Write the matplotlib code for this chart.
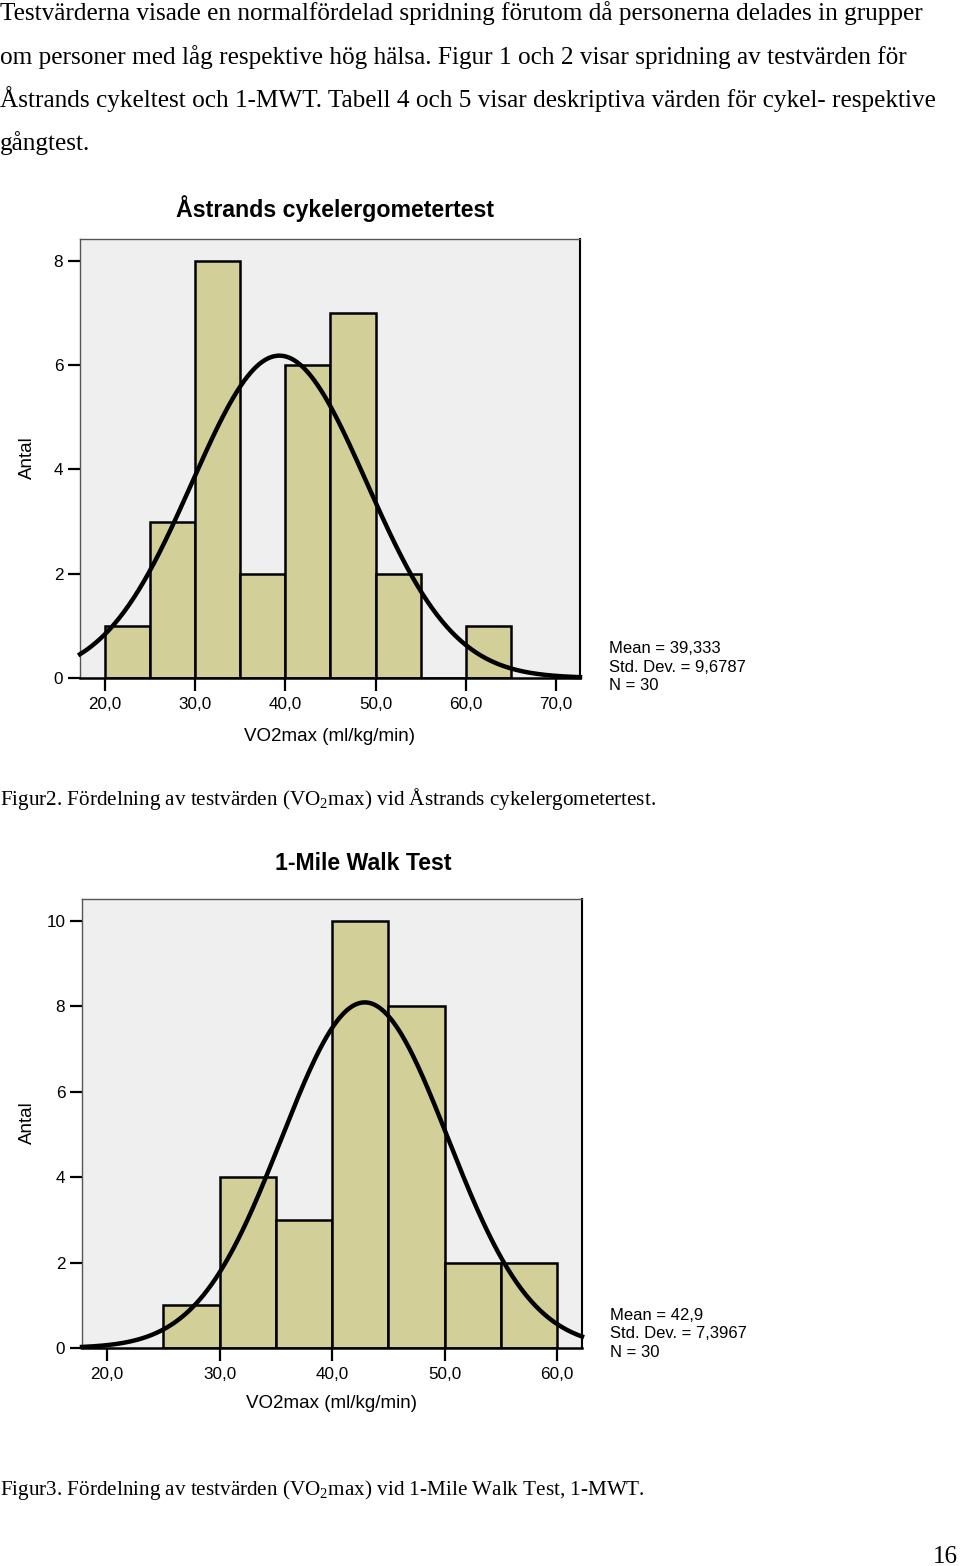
import numpy as np
import matplotlib
matplotlib.use("Agg")
import matplotlib.pyplot as plt

# Histogram data read from the page (bin width 5)
bin_edges_1 = [20, 25, 30, 35, 40, 45, 50, 55, 60, 65]
counts_1 = [1, 3, 8, 2, 6, 7, 2, 0, 1]
mean_1, sd_1, n_1 = 39.333, 9.6787, 30

bin_edges_2 = [25, 30, 35, 40, 45, 50, 55, 60]
counts_2 = [1, 4, 3, 10, 8, 2, 2]
mean_2, sd_2, n_2 = 42.9, 7.3967, 30

xticks_1 = [20, 30, 40, 50, 60, 70]
xticks_2 = [20, 30, 40, 50, 60]
yticks_1 = [0, 2, 4, 6, 8]
yticks_2 = [0, 2, 4, 6, 8, 10]

body_lines = [
    "Testvärderna visade en normalfördelad spridning förutom då personerna delades in grupper",
    "om personer med låg respektive hög hälsa. Figur 1 och 2 visar spridning av testvärden för",
    "Åstrands cykeltest och 1-MWT. Tabell 4 och 5 visar deskriptiva värden för cykel- respektive",
    "gångtest.",
]

W, H = 960, 1566
BAR = "#d3cf99"
BG = "#efefef"
SANS = "Liberation Sans"
SERIF = "Liberation Serif"

plt.rcParams["mathtext.fontset"] = "custom"
plt.rcParams["mathtext.rm"] = SERIF

fig = plt.figure(figsize=(W / 100, H / 100), dpi=100)


def fx(x):
    return x / W


def fy(y):
    return 1 - y / H


def comma(v):
    return ("%.1f" % v).replace(".", ",")


def histogram(rect, edges, counts, mean, sd, n, xlim, ylim, xticks, yticks):
    ax = fig.add_axes(rect)
    ax.set_facecolor(BG)
    widths = np.diff(edges)
    ax.bar(edges[:-1], counts, width=widths, align="edge", color=BAR,
           edgecolor="black", linewidth=1.8, zorder=2)
    xs = np.linspace(xlim[0], xlim[1], 400)
    ys = n * widths[0] * np.exp(-0.5 * ((xs - mean) / sd) ** 2) / (sd * np.sqrt(2 * np.pi))
    ax.plot(xs, ys, color="black", linewidth=3.2, zorder=3, clip_on=False)
    ax.set_xlim(*xlim)
    ax.set_ylim(0, ylim)
    ax.set_xticks(xticks)
    ax.set_xticklabels([comma(t) for t in xticks], fontfamily=SANS, fontsize=12.3)
    ax.set_yticks(yticks)
    ax.set_yticklabels([str(t) for t in yticks], fontfamily=SANS, fontsize=12.3)
    ax.tick_params(axis="both", length=9, width=1.6, color="black")
    ax.tick_params(axis="x", pad=5)
    ax.tick_params(axis="y", pad=3)
    for side in ["top", "left"]:
        ax.spines[side].set_color("#555555")
        ax.spines[side].set_linewidth(1.0)
    ax.spines["right"].set_color("black")
    ax.spines["right"].set_linewidth(1.5)
    ax.spines["bottom"].set_color("black")
    ax.spines["bottom"].set_linewidth(1.8)
    ax.spines["bottom"].set_zorder(4)
    return ax


# body text
for line, base in zip(body_lines, [20, 64, 107, 150]):
    fig.text(0, fy(base), line, fontfamily=SERIF, fontsize=18.2,
             va="baseline", ha="left")

# chart 1
histogram([fx(80), fy(678), 500 / W, 439 / H], bin_edges_1, counts_1,
          mean_1, sd_1, n_1, (17.23, 72.66), 8.42, xticks_1, yticks_1)
fig.text(fx(335), fy(209), "Åstrands cykelergometertest", fontfamily=SANS,
         fontweight="bold", fontsize=16.7, ha="center", va="center")
fig.text(fx(329), fy(736), "VO2max (ml/kg/min)", fontfamily=SANS,
         fontsize=13.5, ha="center", va="center")
fig.text(fx(27), fy(458), "Antal", fontfamily=SANS, fontsize=13.5,
         rotation=90, ha="center", va="center")
fig.text(fx(609), fy(667), "Mean = 39,333\nStd. Dev. = 9,6787\nN = 30",
         fontfamily=SANS, fontsize=12, ha="left", va="center", linespacing=1.3)
fig.text(0, fy(805), r"Figur2. Fördelning av testvärden (VO$_\mathrm{2}$max) vid Åstrands cykelergometertest.",
         fontfamily=SERIF, fontsize=15.2, ha="left", va="baseline")

# chart 2
histogram([fx(82), fy(1348), 500 / W, 449 / H], bin_edges_2, counts_2,
          mean_2, sd_2, n_2, (17.78, 62.2), 10.51, xticks_2, yticks_2)
fig.text(fx(363), fy(863), "1-Mile Walk Test", fontfamily=SANS,
         fontweight="bold", fontsize=16.7, ha="center", va="center")
fig.text(fx(331), fy(1404), "VO2max (ml/kg/min)", fontfamily=SANS,
         fontsize=13.5, ha="center", va="center")
fig.text(fx(27), fy(1123), "Antal", fontfamily=SANS, fontsize=13.5,
         rotation=90, ha="center", va="center")
fig.text(fx(610), fy(1334), "Mean = 42,9\nStd. Dev. = 7,3967\nN = 30",
         fontfamily=SANS, fontsize=12, ha="left", va="center", linespacing=1.3)
fig.text(0, fy(1495), r"Figur3. Fördelning av testvärden (VO$_\mathrm{2}$max) vid 1-Mile Walk Test, 1-MWT.",
         fontfamily=SERIF, fontsize=15.2, ha="left", va="baseline")

fig.text(fx(958), fy(1563), "16", fontfamily=SERIF, fontsize=18, ha="right", va="baseline")

fig.savefig("out.png", dpi=100)
